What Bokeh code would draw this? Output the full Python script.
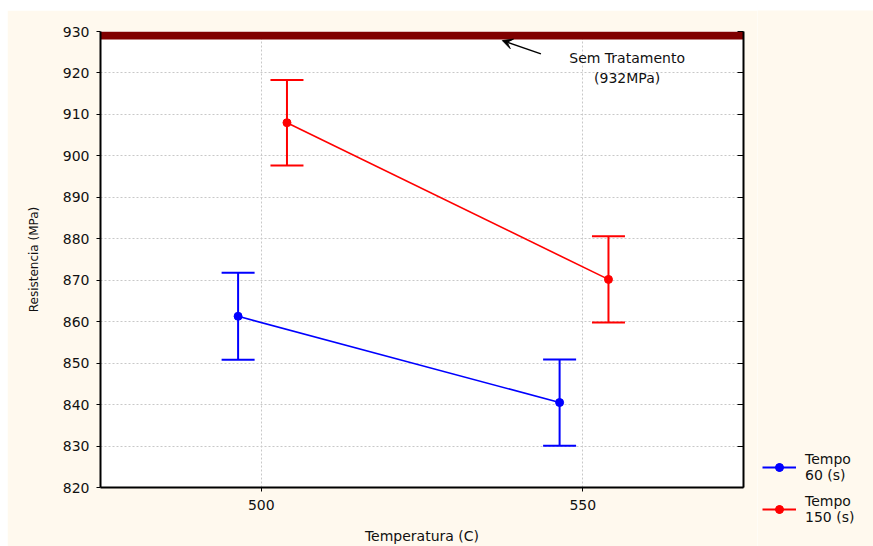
from bokeh.plotting import figure
from bokeh.models import (ColumnDataSource, Whisker, TeeHead, Arrow, VeeHead, Legend,
                          LegendItem, LinearAxis, FixedTicker, Range1d)
from bokeh.layouts import row, column
from bokeh.embed import file_html
from bokeh.resources import INLINE
from bokeh.core.properties import value

# ---- data ----
temps = [500, 550]
t60_mean = [861.3, 840.5]
t60_err = [10.5, 10.4]
t150_mean = [908.0, 870.2]
t150_err = [10.3, 10.4]
offset_60 = -3.6
offset_150 = 4.0
sem_tratamento = 932
band_bottom = 928.1
y_ticks = [820, 830, 840, 850, 860, 870, 880, 890, 900, 910, 920, 930]
x_ticks = [500, 550]
label_sem = ["Sem Tratamento", "(932MPa)"]
series_names = ["Tempo\n60 (s)", "Tempo\n150 (s)"]
series_colors = ["#0000FF", "#FF0000"]

FONT = "DejaVu Sans"
BG = "#FFF9EE"

p = figure(width=750, height=536, output_backend="svg", toolbar_location=None,
           x_range=Range1d(475, 575), y_range=Range1d(820, 930),
           min_border_left=93, min_border_right=14, min_border_top=21, min_border_bottom=58,
           background_fill_color="white", border_fill_color=BG, outline_line_color=None)

# grid
p.xgrid.ticker = FixedTicker(ticks=x_ticks)
p.ygrid.ticker = FixedTicker(ticks=y_ticks)
for g in (p.xgrid, p.ygrid):
    g.grid_line_color = "#c8c8c8"
    g.grid_line_dash = "2 2"
    g.grid_line_width = 1

# axes
p.xaxis.ticker = FixedTicker(ticks=x_ticks)
p.yaxis.ticker = FixedTicker(ticks=y_ticks)
for ax in (p.xaxis[0], p.yaxis[0]):
    ax.axis_line_color = "black"
    ax.axis_line_width = 2
    ax.major_tick_line_color = "black"
    ax.major_tick_out = 4
    ax.major_tick_in = 0
    ax.minor_tick_line_color = None
    ax.major_label_text_font = FONT
    ax.major_label_text_font_size = "14px"
    ax.major_label_text_color = "#111111"
    ax.axis_label_text_font = FONT
    ax.axis_label_text_font_style = "normal"
    ax.axis_label_text_color = "#111111"
p.xaxis.axis_label = "Temperatura (C)"
p.xaxis.axis_label_text_font_size = "14px"
p.xaxis.major_label_standoff = 8
p.xaxis.axis_label_standoff = 15
p.yaxis.axis_label = "Resistencia (MPa)"
p.yaxis.axis_label_text_font_size = "12px"
p.yaxis.major_label_standoff = 7
p.yaxis.axis_label_standoff = 19

right_ax = LinearAxis(ticker=FixedTicker(ticks=y_ticks))
right_ax.axis_line_color = "black"
right_ax.axis_line_width = 2
right_ax.major_tick_in = 6
right_ax.major_tick_out = 0
right_ax.major_tick_line_color = "black"
right_ax.minor_tick_line_color = None
right_ax.major_label_text_alpha = 0
right_ax.major_label_text_font_size = "1px"
right_ax.major_label_standoff = 0
p.add_layout(right_ax, "right")

# band (Sem Tratamento)
p.quad(left=[475], right=[575], bottom=[band_bottom], top=[930], color="#800000", line_color=None)

# series
x60 = [t + offset_60 for t in temps]
x150 = [t + offset_150 for t in temps]
src60 = ColumnDataSource(dict(x=x60, y=t60_mean,
                              lo=[m - e for m, e in zip(t60_mean, t60_err)],
                              hi=[m + e for m, e in zip(t60_mean, t60_err)]))
src150 = ColumnDataSource(dict(x=x150, y=t150_mean,
                               lo=[m - e for m, e in zip(t150_mean, t150_err)],
                               hi=[m + e for m, e in zip(t150_mean, t150_err)]))

for src, col in zip((src60, src150), series_colors):
    w = Whisker(source=src, base="x", lower="lo", upper="hi", line_color=col, line_width=2,
                upper_head=TeeHead(size=33, line_color=col, line_width=2),
                lower_head=TeeHead(size=33, line_color=col, line_width=2))
    p.add_layout(w)
    p.line("x", "y", source=src, color=col, line_width=1.6)
    p.scatter("x", "y", source=src, color=col, size=8)

# annotation
p.add_layout(Arrow(end=VeeHead(size=10, fill_color="black", line_color="black"),
                   x_start=543.5, y_start=924.6, x_end=537.5, y_end=927.8,
                   line_color="black", line_width=1.5))
p.text(x=[556.9, 556.9], y=[923.7, 918.7], text=label_sem, text_align="center",
       text_baseline="middle", text_font=value(FONT), text_font_size="14px", text_color="#111111")

# legend panel (separate figure so the legend can sit beside and below the frame)
lg = figure(width=116, height=536, output_backend="svg", toolbar_location=None,
            x_range=Range1d(0, 1), y_range=Range1d(0, 1), x_axis_type=None, y_axis_type=None,
            min_border=0, background_fill_color=BG, border_fill_color=BG, outline_line_color=None)
lg.grid.visible = False
items = []
for name, col in zip(series_names, series_colors):
    l = lg.line(x=[-5, -4], y=[-5, -4], color=col, line_width=2)
    v = lg.scatter(x=[-5], y=[-5], marker="cross", size=16, line_color=col, line_width=2)
    s = lg.scatter(x=[-5], y=[-5], color=col, size=8)
    items.append(LegendItem(label=name, renderers=[l, v, s]))
legend = Legend(items=items, location=(5, 21), background_fill_alpha=0,
                border_line_color=None, label_text_font=FONT, label_text_font_size="14px",
                label_text_color="#111111", glyph_width=34, label_standoff=9, spacing=10,
                padding=4, margin=0)
lg.add_layout(legend, "center")

layout = row(p, column(lg), margin=(10, 0, 0, 7), spacing=0)
open("out.html", "w").write(file_html(layout, INLINE))
